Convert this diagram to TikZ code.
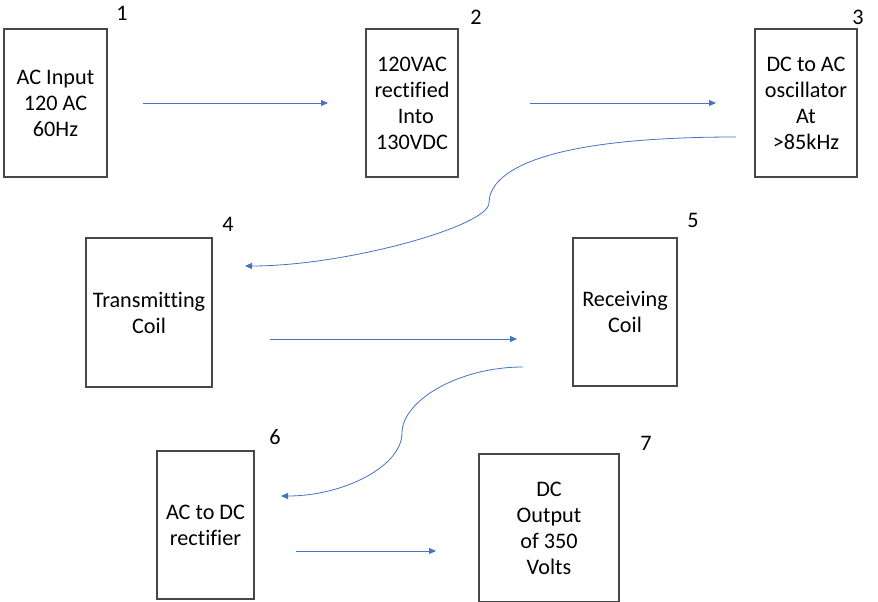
\documentclass[tikz,border=0pt]{standalone}
\usepackage{fontspec}
\setmainfont{Carlito}[Ligatures=CommonOff]
\usetikzlibrary{positioning}
\usetikzlibrary{arrows.meta}
\definecolor{arrowblue}{HTML}{4472C4}

\begin{document}
\begin{tikzpicture}[x=1pt,y=-1pt,>={Triangle[length=7pt,width=6pt]},
	stage/.style={rectangle,draw=black!72,line width=1.1pt,align=center,
		inner sep=0pt,minimum height=148pt,font=\fontsize{22.2}{26}\selectfont},
	num/.style={inner sep=0pt,font=\fontsize{22.2}{26}\selectfont},
	link/.style={->,draw=arrowblue,line width=0.8pt}]
	
	\useasboundingbox (0,0) rectangle (878,602);
	
	\node[stage,minimum width=103pt] (acin) at (55.5,103) {AC Input\\120 AC\\60Hz};
	\node[stage,minimum width=92pt] (rect) at (412,103) {120VAC\\rectified\\\hspace*{0.35em}Into\\130VDC};
	\node[stage,minimum width=102pt] (osc) at (806,103) {DC to AC\\oscillator\\At\\>85kHz};
	\node[stage,minimum width=126pt,minimum height=149pt] (txcoil) at (149,312.5) {Transmitting\\Coil};
	\node[stage,minimum width=104pt] (rxcoil) at (625,312) {Receiving\\Coil};
	\node[stage,minimum width=97pt] (acdc) at (205.5,525) {AC to DC\\rectifier};
	\node[stage,minimum width=140pt] (dcout) at (549,528) {DC\\Output\\of 350\\Volts};
	
	\node[num] (n1) at (122,13) {1};
	\node[num] (n2) at (476,17) {2};
	\node[num] (n3) at (858,17) {3};
	\node[num] (n4) at (228,224) {4};
	\node[num] (n5) at (693,220) {5};
	\node[num] (n6) at (275,437) {6};
	\node[num] (n7) at (646,443) {7};
	
	\coordinate (a1s) at (143,103);
	\coordinate (a1e) at (328,103);
	\coordinate (a2s) at (530,103);
	\coordinate (a2e) at (716,103);
	\coordinate (a3s) at (736,137);
	\coordinate (a3m) at (489,203);
	\coordinate (a3e) at (245,266);
	\coordinate (a4s) at (270,339);
	\coordinate (a4e) at (517,339);
	\coordinate (a5s) at (523,367);
	\coordinate (a5m) at (402,433);
	\coordinate (a5e) at (281,496);
	\coordinate (a6s) at (296,551);
	\coordinate (a6e) at (436,551);
	
	\draw[link] (a1s) -- (a1e);
	\draw[link] (a2s) -- (a2e);
	\draw[link] (a3s) .. controls (529,137) and (489,176) .. (a3m)
		.. controls (489,226) and (346,266) .. (a3e);
	\draw[link] (a4s) -- (a4e);
	\draw[link] (a5s) .. controls (458,367) and (402,401) .. (a5m)
		.. controls (402,466) and (344,496) .. (a5e);
	\draw[link] (a6s) -- (a6e);
\end{tikzpicture}
\end{document}
